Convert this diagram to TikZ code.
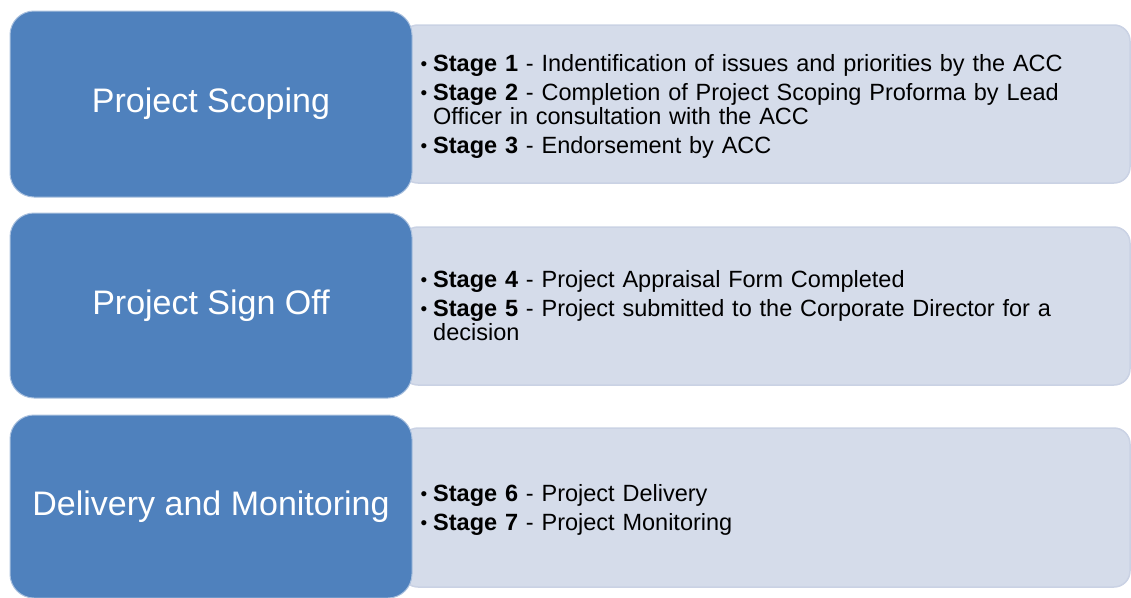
\documentclass[tikz,border=0pt]{standalone}
\usepackage{fontspec}
\setmainfont{Liberation Sans}
\definecolor{bluebox}{HTML}{4F81BD}
\definecolor{blueedge}{HTML}{A9C0DE}
\definecolor{lightbox}{HTML}{D5DCEA}
\definecolor{lightedge}{HTML}{CAD2E4}
\newcommand{\stg}[2]{\par\hangindent=12pt\hangafter=1\noindent\makebox[12pt][l]{\hspace{-0.5pt}\raisebox{1pt}{\fontsize{19}{19}\selectfont •}}\textbf{Stage #1} - #2}
\begin{document}
\begin{tikzpicture}[x=1pt,y=-1pt,
  phase/.style={rectangle, rounded corners=24pt, fill=bluebox, draw=blueedge, line width=1pt,
    text=white, font=\fontsize{34}{40}\selectfont, minimum width=402pt, inner sep=0pt},
  detail/.style={rectangle, rounded corners=16pt, fill=lightbox, draw=lightedge, line width=1.5pt,
    minimum width=728pt, inner sep=0pt},
  stagetext/.style={anchor=west, text width=700pt, align=left,
    font=\fontsize{23.5}{24}\selectfont, inner sep=0pt, text=black}]
\useasboundingbox (0,0) rectangle (1131,597);
% detail boxes (behind)
\node[detail, minimum height=158pt] (d1) at (766,104) {};
\node[detail, minimum height=158pt] (d2) at (766,306) {};
\node[detail, minimum height=159pt] (d3) at (766,507.5) {};
% phase boxes
\node[phase, minimum height=186pt] (p1) at (211,104) {Project Scoping};
\node[phase, minimum height=185pt] (p2) at (211,305.5) {Project Sign Off};
\node[phase, minimum height=183pt] (p3) at (211,506.5) {Delivery and Monitoring};
% texts
\node[stagetext] (t1) at (421,100) {\setlength{\parskip}{5pt}%
  \stg{1}{Indentification of issues and priorities by the ACC}
  \stg{2}{Completion of Project Scoping Proforma by Lead\newline Officer in consultation with the ACC}
  \stg{3}{Endorsement by ACC}\par};
\node[stagetext] (t2) at (421,300) {\setlength{\parskip}{5pt}%
  \stg{4}{Project Appraisal Form Completed}
  \stg{5}{Project submitted to the Corporate Director for a\newline decision}\par};
\node[stagetext] (t3) at (421,504) {\setlength{\parskip}{5pt}%
  \stg{6}{Project Delivery}
  \stg{7}{Project Monitoring}\par};
\end{tikzpicture}
\end{document}
